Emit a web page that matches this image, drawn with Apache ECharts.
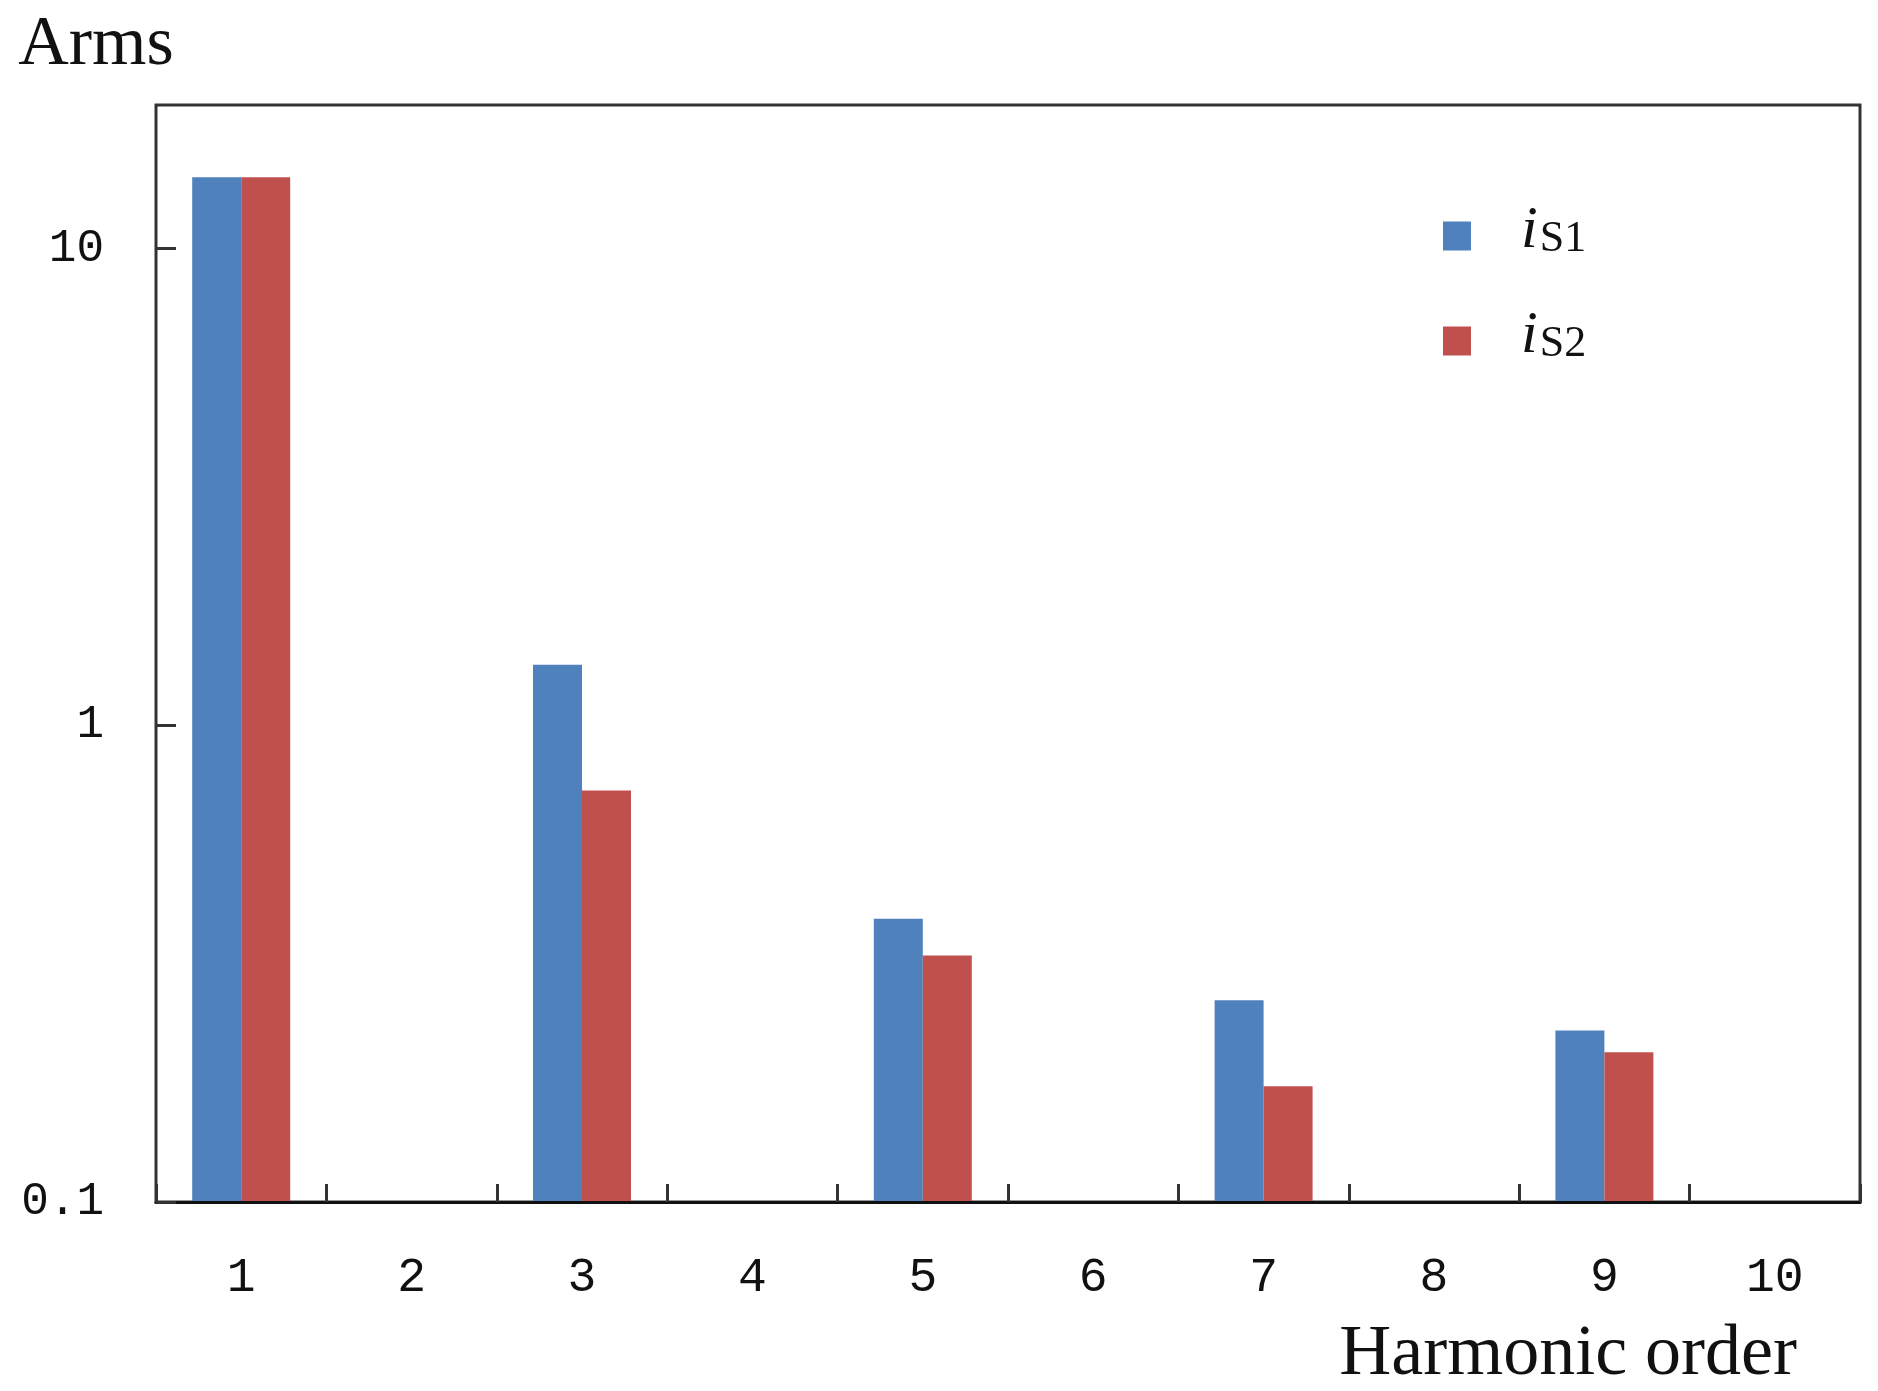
<!DOCTYPE html>
<html>
<head>
<meta charset="utf-8">
<script src="https://cdn.jsdelivr.net/npm/echarts@6/dist/echarts.min.js"></script>
<style>
html,body{margin:0;padding:0;background:#fff;}
#chart{width:1878px;height:1391px;}
</style>
</head>
<body>
<div id="chart"></div>
<script>
const categories = ['1','2','3','4','5','6','7','8','9','10'];
const seriesNames = ['iS1','iS2'];
const iS1 = [14.1, null, 1.34, null, 0.393, null, 0.265, null, 0.229, null];
const iS2 = [14.1, null, 0.73, null, 0.329, null, 0.175, null, 0.206, null];
const seriesColors = ['#4F81BD', '#C0504D'];
const yMin = 0.1;
const yMax = 20;
const legendLabels = {iS1: '{i|i}{s|S1}', iS2: '{i|i}{s|S2}'};

const chart = echarts.init(document.getElementById('chart'), null, {renderer: 'canvas'});
const tickFont = 'Liberation Mono';
const serif = 'Liberation Serif';
const barFrac = 0.2875; // width of one bar as a fraction of the category band

function makeRender(side) {
  return function (params, api) {
    const cat = api.value(0);
    const top = api.coord([cat, api.value(1)]);
    const base = api.coord([cat, yMin]);
    const band = api.size([1, 0])[0];
    const w = band * barFrac;
    const x = side === 0 ? top[0] - w : top[0];
    return {
      type: 'rect',
      shape: {x: x, y: top[1], width: w, height: base[1] - top[1]},
      style: {fill: api.visual('color')}
    };
  };
}
function toPairs(arr) {
  return arr.map((v, i) => [i, v]).filter(d => d[1] != null);
}
const allSeries = [iS1, iS2];

chart.setOption({
  animation: false,
  backgroundColor: '#ffffff',
  grid: {left: 156, right: 18, top: 105, bottom: 187, show: true, borderColor: '#333', borderWidth: 3, backgroundColor: 'transparent'},
  legend: {
    orient: 'vertical', left: 1438, top: 196, itemWidth: 28, itemHeight: 29, itemGap: 45,
    icon: 'rect', data: seriesNames,
    formatter: n => legendLabels[n],
    textStyle: {
      color: '#111',
      rich: {
        i: {fontFamily: serif, fontStyle: 'italic', fontSize: 60, lineHeight: 50, verticalAlign: 'bottom', padding: [0, 2, 0, 45]},
        s: {fontFamily: serif, fontSize: 44, lineHeight: 20, verticalAlign: 'bottom'}
      }
    }
  },
  xAxis: {
    type: 'category', data: categories, boundaryGap: true,
    name: 'Harmonic order', nameLocation: 'end', nameGap: -63,
    nameTextStyle: {fontFamily: serif, fontSize: 72, color: '#111', align: 'right', verticalAlign: 'top', padding: [117, 0, 0, 0]},
    axisLine: {lineStyle: {color: '#111', width: 3}},
    axisTick: {show: true, inside: true, length: 18, lineStyle: {color: '#333', width: 3}},
    axisLabel: {fontFamily: tickFont, fontSize: 48, color: '#111', margin: 52},
    splitLine: {show: false},
    z: 10
  },
  yAxis: {
    type: 'log', logBase: 10, min: yMin, max: yMax, splitNumber: 3,
    name: 'Arms', nameLocation: 'end', nameGap: 24,
    nameTextStyle: {fontFamily: serif, fontSize: 70, color: '#111', align: 'center', padding: [0, 120, 0, 0]},
    axisLine: {lineStyle: {color: '#111', width: 3}},
    axisTick: {show: true, inside: true, length: 20, lineStyle: {color: '#333', width: 3}},
    axisLabel: {fontFamily: tickFont, fontSize: 46, color: '#111', margin: 52, showMaxLabel: false,
      formatter: v => String(Number(v.toPrecision(3)))},
    splitLine: {show: false},
    minorTick: {show: false},
    z: 10
  },
  series: seriesNames.map((name, k) => ({
    name: name, type: 'custom', renderItem: makeRender(k),
    data: toPairs(allSeries[k]), encode: {x: 0, y: 1},
    itemStyle: {color: seriesColors[k]}, z: 2
  }))
});
</script>
</body>
</html>
